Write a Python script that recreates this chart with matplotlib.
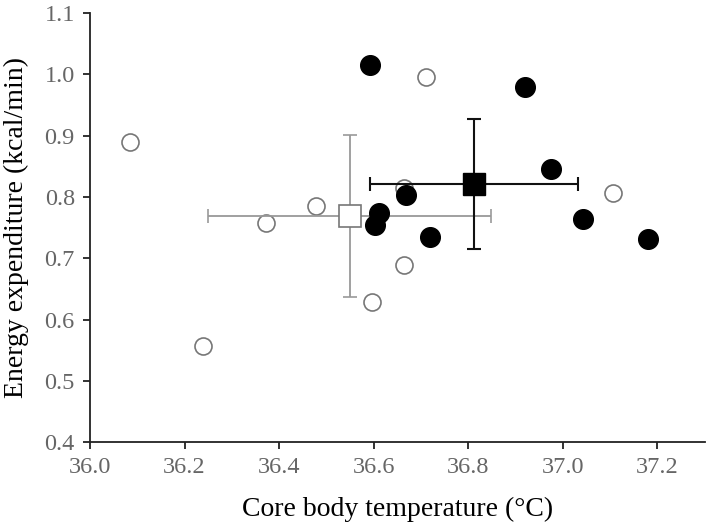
import numpy as np
import matplotlib
matplotlib.use("Agg")
import matplotlib.pyplot as plt

plt.rcParams['font.family'] = ['Liberation Serif', 'DejaVu Serif']

# individual subjects, group A (open circles)
temp_a = [36.084, 36.239, 36.373, 36.477, 36.597, 36.663, 36.663, 36.711, 37.105]
ee_a = [0.890, 0.557, 0.757, 0.785, 0.628, 0.689, 0.814, 0.995, 0.807]

# group B (filled circles)
temp_b = [36.593, 36.919, 36.975, 36.669, 36.611, 36.603, 37.042, 37.181, 36.719]
ee_b = [1.016, 0.979, 0.845, 0.803, 0.773, 0.754, 0.764, 0.731, 0.734]

# group means and SD
mean_temp = [36.549, 36.813]
mean_ee = [0.769, 0.821]
sd_temp = [0.299, 0.220]
sd_ee = [0.132, 0.106]

fig = plt.figure(figsize=(7.09, 5.22), dpi=100)
ax = fig.add_axes([0.127, 0.153, 0.867, 0.822])

ax.scatter(temp_a, ee_a, s=150, facecolor='white', edgecolor='#777777',
           linewidth=1.2, zorder=2)
ax.errorbar(mean_temp[0], mean_ee[0], xerr=sd_temp[0], yerr=sd_ee[0],
            fmt='s', ms=16, mfc='white', mec='#777777', mew=1.2,
            ecolor='#999999', elinewidth=1.3, capsize=5, capthick=1.3, zorder=3)
ax.scatter(temp_b, ee_b, s=200, color='black', zorder=4)
ax.errorbar(mean_temp[1], mean_ee[1], xerr=sd_temp[1], yerr=sd_ee[1],
            fmt='s', ms=16.5, mfc='black', mec='black',
            ecolor='#111111', elinewidth=1.5, capsize=5, capthick=1.5, zorder=5)

ax.set_xlim(36.0, 37.3)
ax.set_ylim(0.4, 1.1)
ax.set_xticks(np.arange(36.0, 37.21, 0.2))
ax.set_yticks(np.arange(0.4, 1.11, 0.1))
ax.xaxis.set_major_formatter(plt.FormatStrFormatter('%.1f'))
ax.yaxis.set_major_formatter(plt.FormatStrFormatter('%.1f'))

for s in ['top', 'right']:
    ax.spines[s].set_visible(False)
for s in ['left', 'bottom']:
    ax.spines[s].set_linewidth(1.3)
    ax.spines[s].set_color('#222222')

ax.tick_params(direction='out', length=5, width=1.3, color='#222222',
               labelsize=17.5, labelcolor='#666666', pad=6)

ax.set_xlabel('Core body temperature (°C)', fontsize=20, labelpad=13)
ax.set_ylabel('Energy expenditure (kcal/min)', fontsize=20, labelpad=11)

fig.savefig('out.png', dpi=100)
